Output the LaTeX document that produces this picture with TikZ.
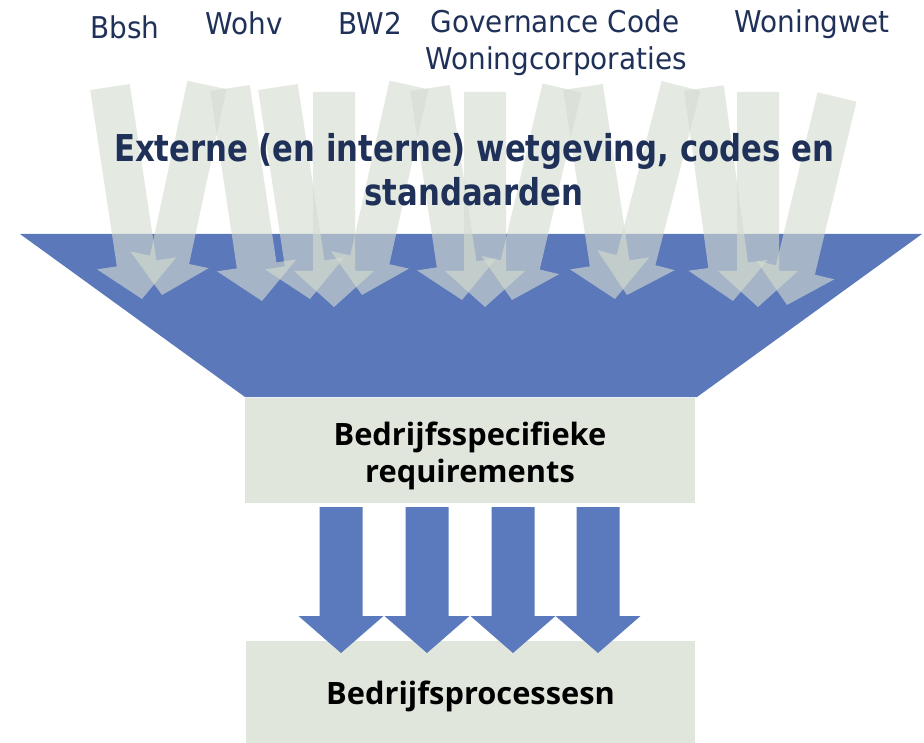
\documentclass[tikz,border=0pt]{standalone}
\usepackage{fontspec}
\usetikzlibrary{calc}
\newfontfamily\labfont[FakeStretch=0.93]{DejaVu Sans}
\newfontfamily\titfont[FakeStretch=0.83]{DejaVu Sans}
\newfontfamily\boxfont{Open Sans}
\definecolor{navy}{HTML}{1F3158}
\definecolor{funnelblue}{HTML}{5A78BA}
\definecolor{boxfill}{HTML}{E0E6DC}
\definecolor{lightarr}{HTML}{D4DCCF}
\definecolor{bluearr}{HTML}{5B7ABD}
\tikzset{
  toplabel/.style={text=navy, font=\labfont\fontsize{30}{34}\selectfont, inner sep=0pt, anchor=base},
  titlestyle/.style={text=navy, font=\titfont\bfseries\fontsize{37}{44}\selectfont, inner sep=0pt, anchor=base},
  boxstyle/.style={fill=boxfill, draw=none, inner sep=0pt},
  boxtext/.style={text=black, align=center, inner sep=0pt,
     font=\boxfont\bfseries\fontsize{30.8}{37}\selectfont},
  lightarrow/.style={fill=lightarr, fill opacity=0.62},
  bluearrow/.style={fill=bluearr},
}
% #1 style, #2 tail centre, #3 tip, #4 shaft half width, #5 head half width, #6 head length
\newcommand\fatarrow[6]{%
  \coordinate (T) at #2; \coordinate (H) at #3;
  \coordinate (B) at ($(H)!#6!(T)$);
  \fill[#1] ($(T)!#4!90:(H)$) -- ($(B)!#4!90:(H)$) -- ($(B)!#5!90:(H)$) -- (H)
     -- ($(B)!#5!-90:(H)$) -- ($(B)!#4!-90:(H)$) -- ($(T)!#4!-90:(H)$) -- cycle;}
\begin{document}
\begin{tikzpicture}[x=1pt,y=-1pt]
\useasboundingbox (0,0) rectangle (924,743);
% funnel
\fill[funnelblue] (20,234) -- (922,234) -- (697,397) -- (245,397) -- cycle;
% light arrows
\fatarrow{lightarrow}{(110,87)}{(142,299)}{20pt}{40pt}{36pt}
\fatarrow{lightarrow}{(207,85)}{(162,295)}{20pt}{40pt}{36pt}
\fatarrow{lightarrow}{(230,88)}{(262,301)}{20pt}{40pt}{36pt}
\fatarrow{lightarrow}{(278,87)}{(310,299)}{20pt}{40pt}{36pt}
\fatarrow{lightarrow}{(334,92)}{(334,307)}{21pt}{40pt}{36pt}
\fatarrow{lightarrow}{(409,85)}{(362,295)}{20pt}{40pt}{36pt}
\fatarrow{lightarrow}{(430,88)}{(462,300)}{20pt}{40pt}{36pt}
\fatarrow{lightarrow}{(485,92)}{(485,307)}{21pt}{40pt}{36pt}
\fatarrow{lightarrow}{(562,88)}{(512,300)}{20pt}{40pt}{36pt}
\fatarrow{lightarrow}{(583,87)}{(615,299)}{20pt}{40pt}{36pt}
\fatarrow{lightarrow}{(681,86)}{(627,295)}{20pt}{40pt}{36pt}
\fatarrow{lightarrow}{(704,88)}{(733,301)}{20pt}{40pt}{36pt}
\fatarrow{lightarrow}{(758,92)}{(758,307)}{21pt}{40pt}{36pt}
\fatarrow{lightarrow}{(837,97)}{(787,305)}{20pt}{40pt}{36pt}
% top labels
\node[toplabel] (bbsh) at (125,39) {Bbsh};
\node[toplabel] (wohv) at (244,35) {Wohv};
\node[toplabel] (bw2) at (370,35) {BW2};
\node[toplabel] (gov) at (555,33) {Governance Code};
\node[toplabel] (wcorp) at (556,70) {Woningcorporaties};
\node[toplabel] (wwet) at (812,33) {Woningwet};
% title
\node[titlestyle] (title1) at (474,162) {Externe (en interne) wetgeving, codes en};
\node[titlestyle] (title2) at (474,206) {standaarden};
% boxes
\node[boxstyle, minimum width=450pt, minimum height=105pt] (req) at (470,450.5) {};
\node[boxtext] (reqtext) at ($(req.center)+(0,5)$) {Bedrijfsspecifieke\\requirements};
\node[boxstyle, minimum width=449pt, minimum height=102pt] (proc) at (470.5,692) {};
\node[boxtext] (proctext) at ($(proc.center)+(0,4)$) {Bedrijfsprocessesn};
% blue arrows
\foreach \c in {341,427,513,598}{
  \fatarrow{bluearrow}{(\c,507)}{(\c,653)}{21.5pt}{42.5pt}{37pt}
}
\end{tikzpicture}
\end{document}
